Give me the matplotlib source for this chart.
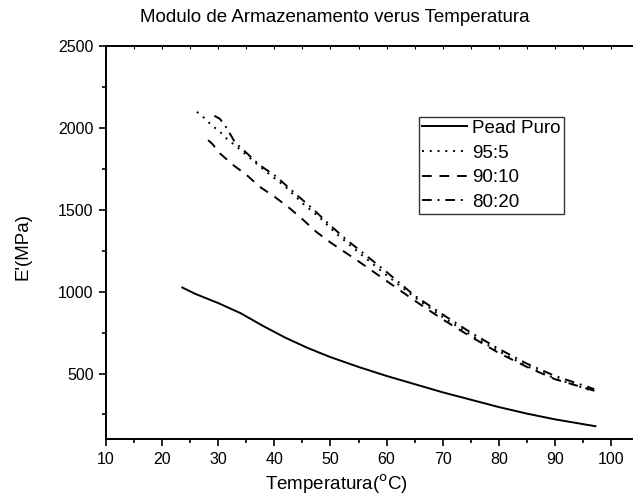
import matplotlib
matplotlib.use("Agg")
import matplotlib.pyplot as plt
from matplotlib.ticker import MultipleLocator

plt.rcParams["font.family"] = ["Liberation Sans", "DejaVu Sans"]

# Pead Puro (solid)
pead_x = [23.6, 26, 30, 34, 38, 42, 46, 50, 55, 60, 65, 70, 75, 80, 85, 90, 97.2]
pead_y = [1025, 985, 930, 868, 790, 718, 655, 600, 540, 485, 435, 385, 340, 295, 255, 220, 178]

# 95:5 (dotted)
b95_x = [26.2, 27.6, 28.8, 30.3, 31.6, 33.2, 36, 39, 42, 45, 48, 51, 55, 60, 65, 70, 75, 80, 85, 90, 97]
b95_y = [2098, 2058, 2017, 1976, 1931, 1888, 1805, 1720, 1640, 1540, 1455, 1355, 1240, 1100, 965, 845, 735, 635, 545, 470, 390]

# 90:10 (dashed)
b90_x = [28.2, 29, 30.3, 32.7, 35.1, 37.4, 40.1, 42.8, 45.2, 47.5, 50, 55, 60, 65, 70, 75, 80, 85, 90, 97]
b90_y = [1925, 1900, 1844, 1772, 1711, 1640, 1578, 1507, 1436, 1364, 1300, 1185, 1065, 945, 830, 725, 625, 540, 465, 395]

# 80:20 (dash-dot)
b80_x = [29.3, 30.3, 31.5, 33, 34.5, 37.4, 40.4, 43.7, 46.8, 49.6, 52.6, 56, 60, 65, 70, 75, 80, 85, 90, 97]
b80_y = [2074, 2055, 2000, 1910, 1864, 1772, 1701, 1599, 1507, 1416, 1324, 1230, 1120, 975, 860, 750, 650, 560, 485, 405]

fig = plt.figure(figsize=(6.33, 4.97), dpi=100)
ax = fig.add_axes([106 / 633, 1 - 439 / 497, 1 - 106 / 633, (439 - 46) / 497])

lw = 1.4
ax.plot(pead_x, pead_y, "-", color="black", lw=lw, label="Pead Puro")
ax.plot(b95_x, b95_y, color="black", lw=lw, dashes=(1, 3), label="95:5")
ax.plot(b90_x, b90_y, color="black", lw=lw, dashes=(5, 4), label="90:10")
ax.plot(b80_x, b80_y, color="black", lw=lw, dashes=(5, 3, 1, 3), label="80:20")

ax.set_xlim(10, 103.9)
ax.set_ylim(100, 2500)
ax.xaxis.set_major_locator(MultipleLocator(10))
ax.xaxis.set_minor_locator(MultipleLocator(5))
ax.yaxis.set_minor_locator(MultipleLocator(250))
ax.set_yticks([500, 1000, 1500, 2000, 2500])

for s in ["left", "bottom", "top"]:
    ax.spines[s].set_linewidth(1.4)
ax.spines["right"].set_visible(False)

ax.tick_params(which="major", direction="out", length=5, width=1.2, labelsize=11.5, pad=4)
ax.tick_params(which="minor", direction="out", length=3, width=1.2)

top = ax.secondary_xaxis("top")
top.xaxis.set_major_locator(MultipleLocator(10))
top.xaxis.set_minor_locator(MultipleLocator(5))
top.tick_params(which="both", direction="in", length=2.5, width=0.8, labeltop=False)
top.spines["top"].set_visible(False)

fig.text(337 / 633, 1 - 484 / 497, "Temperatura($^{\\mathrm{o}}$C)", ha="center", va="center", fontsize=13.5)
fig.text(23 / 633, 1 - 247 / 497, "E'(MPa)", rotation=90, ha="center", va="center", fontsize=13.5)
fig.text(335 / 633, 1 - 18 / 497, "Modulo de Armazenamento verus Temperatura",
         ha="center", va="center", fontsize=13.5)

leg = ax.legend(loc="upper left", bbox_to_anchor=((419 - 106) / (633 - 106), (439 - 117) / (439 - 46)),
                fontsize=13.5, frameon=True, fancybox=False, handlelength=2.4,
                handletextpad=0.3, borderpad=0.15, labelspacing=0.4, borderaxespad=0)
leg.get_frame().set_edgecolor("black")
leg.get_frame().set_linewidth(1.0)

fig.savefig("out.png", dpi=100)
